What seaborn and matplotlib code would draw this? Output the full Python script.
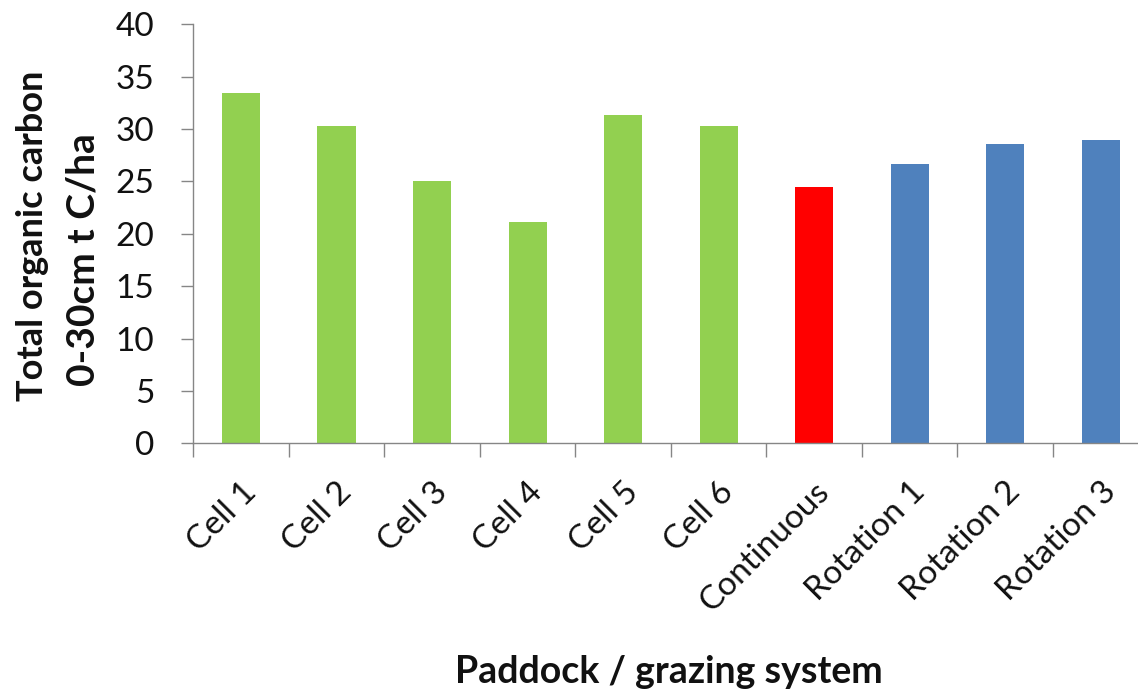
import matplotlib
matplotlib.use("Agg")
import matplotlib.pyplot as plt
import seaborn as sns
import pandas as pd

# Paddocks and their soil organic carbon stocks (0-30 cm, t C/ha)
paddocks = ["Cell 1", "Cell 2", "Cell 3", "Cell 4", "Cell 5", "Cell 6",
            "Continuous", "Rotation 1", "Rotation 2", "Rotation 3"]
carbon = [33.4, 30.3, 25.0, 21.1, 31.3, 30.3, 24.5, 26.7, 28.6, 29.0]
systems = ["Cell", "Cell", "Cell", "Cell", "Cell", "Cell",
           "Continuous", "Rotation", "Rotation", "Rotation"]
system_colors = {"Cell": "#92D050", "Continuous": "#FF0000", "Rotation": "#4F81BD"}

y_ticks = [0, 5, 10, 15, 20, 25, 30, 35, 40]
y_title_lines = ["Total organic carbon", "0-30cm t C/ha"]
x_title = "Paddock / grazing system"

df = pd.DataFrame({"paddock": paddocks, "carbon": carbon, "system": systems})

sns.set_theme(style="white")
plt.rcParams["font.family"] = ["Lato", "DejaVu Sans"]

W, H = 1138, 693
fig = plt.figure(figsize=(W / 100, H / 100), dpi=100)
left, right, top, bottom = 193.3, 1148.5, 24.3, 443.3
ax = fig.add_axes([left / W, 1 - bottom / H, (right - left) / W, (bottom - top) / H])

sns.barplot(data=df, x="paddock", y="carbon", hue="system", palette=system_colors,
            order=paddocks, width=0.4, dodge=False, legend=False,
            saturation=1, linewidth=0, ax=ax)

axis_grey = "#868686"
text_color = "#111111"
ax.set_ylim(0, 40)
ax.set_xlim(-0.5, len(paddocks) - 0.5)
ax.set_yticks(y_ticks)
ax.set_yticklabels([str(v) for v in y_ticks], fontsize=24, color=text_color)
ax.tick_params(axis="y", which="major", direction="out", length=9, width=1,
               color=axis_grey, pad=19, left=True)

# x tick marks sit between categories; labels at category centres
ax.set_xticks([i - 0.5 for i in range(len(paddocks) + 1)], minor=False)
ax.set_xticklabels([])
ax.tick_params(axis="x", which="major", direction="out", length=10, width=1,
               color=axis_grey, bottom=True)
ax.set_xticks(range(len(paddocks)), minor=True)
ax.set_xticklabels(paddocks, minor=True, rotation=45, ha="right",
                   rotation_mode="anchor", fontsize=24, color=text_color)
ax.tick_params(axis="x", which="minor", length=0, pad=24)

for side in ["top", "right"]:
    ax.spines[side].set_visible(False)
for side in ["left", "bottom"]:
    ax.spines[side].set_color(axis_grey)
    ax.spines[side].set_linewidth(1)

ax.set_xlabel("")
ax.set_ylabel("")

# two-line vertical axis title, each line anchored on its own baseline
for (bx, cy, size), line in zip([(43, 236, 26), (95, 260, 28)], y_title_lines):
    fig.text(bx / W, 1 - cy / H, line, rotation=90, rotation_mode="anchor",
             ha="center", va="baseline", fontsize=size, fontweight="bold",
             color=text_color)

fig.text(669 / W, 1 - 683 / H, x_title, ha="center", va="baseline",
         fontsize=27, fontweight="bold", color=text_color)

fig.savefig("out.png", dpi=100, facecolor="white")
